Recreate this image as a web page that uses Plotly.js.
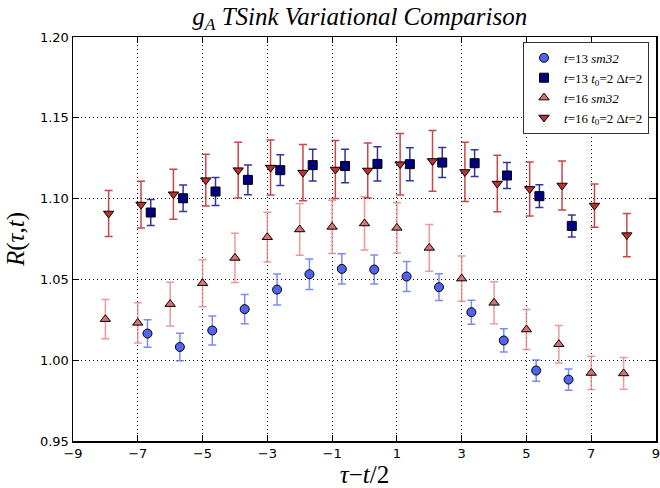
<!DOCTYPE html>
<html>
<head>
<meta charset="utf-8">
<script src="https://cdn.plot.ly/plotly-3.0.1.min.js"></script>
<style>html,body{margin:0;padding:0;background:#fff;}#chart{width:660px;height:488px;}</style>
</head>
<body>
<div id="chart"></div>
<script>
// t=13 sm32 (blue circles)
const x13sm = [-6.7,-5.7,-4.7,-3.7,-2.7,-1.7,-0.7,0.3,1.3,2.3,3.3,4.3,5.3,6.3];
const y13sm = [1.0165,1.0082,1.0184,1.0316,1.0437,1.0532,1.0565,1.0561,1.0518,1.0452,1.0297,1.0122,0.9936,0.9880];
const e13sm = [0.0085,0.0085,0.009,0.009,0.0096,0.0095,0.0093,0.009,0.0093,0.0083,0.0074,0.0072,0.0066,0.0066];
// t=13 t0=2 dt=2 (navy squares)
const x13v = [-6.6,-5.6,-4.6,-3.6,-2.6,-1.6,-0.6,0.4,1.4,2.4,3.4,4.4,5.4,6.4];
const y13v = [1.0914,1.1002,1.1044,1.1116,1.1176,1.1207,1.1202,1.1215,1.1213,1.1223,1.1219,1.1143,1.1015,1.0831];
const e13v = [0.008,0.0082,0.0087,0.0092,0.0095,0.0098,0.0104,0.0106,0.0102,0.0093,0.0083,0.008,0.007,0.0068];
// t=16 sm32 (light red up-triangles)
const x16sm = [-8,-7,-6,-5,-4,-3,-2,-1,0,1,2,3,4,5,6,7,8];
const y16sm = [1.0254,1.0231,1.0347,1.0476,1.0633,1.0761,1.0809,1.0825,1.0846,1.0819,1.0695,1.0505,1.0355,1.0190,1.0099,0.9921,0.9918];
const e16sm = [0.0122,0.0124,0.0135,0.0145,0.0152,0.0154,0.016,0.0165,0.0164,0.0155,0.0145,0.014,0.013,0.0124,0.0116,0.0103,0.0098];
// t=16 t0=2 dt=2 (dark red down-triangles)
const x16v = [-7.9,-6.9,-5.9,-4.9,-3.9,-2.9,-1.9,-0.9,0.1,1.1,2.1,3.1,4.1,5.1,6.1,7.1,8.1];
const y16v = [1.0908,1.0963,1.1027,1.1114,1.1176,1.1192,1.1161,1.1180,1.1174,1.1213,1.1233,1.1165,1.1093,1.1060,1.1081,1.0957,1.0774];
const e16v = [0.0142,0.0145,0.0155,0.016,0.0172,0.017,0.0174,0.018,0.017,0.019,0.0188,0.0183,0.0175,0.0167,0.0152,0.0134,0.0134];

const names = ['<i>t</i>=13 <i>sm32</i>', '<i>t</i>=13 <i>t</i><sub>0</sub>=2 Δ<i>t</i>=2', '<i>t</i>=16 <i>sm32</i>', '<i>t</i>=16 <i>t</i><sub>0</sub>=2 Δ<i>t</i>=2'];
const xTicks = [-9,-7,-5,-3,-1,1,3,5,7,9];
const yTicks = [0.95,1.00,1.05,1.10,1.15,1.20];

function tr(x, y, e, name, sym, fill, ecol, size) {
  return {
    type: 'scatter', mode: 'markers', x: x, y: y, name: name,
    marker: {symbol: sym, size: size, color: fill, line: {color: '#000', width: 1}},
    error_y: {type: 'data', array: e, visible: true, color: ecol, thickness: 1.5, width: 4}
  };
}
const data = [
  tr(x13sm, y13sm, e13sm, names[0], 'circle', '#5064f0', 'rgba(80,100,240,0.75)', 9),
  tr(x13v, y13v, e13v, names[1], 'square', '#000080', 'rgba(0,0,128,0.8)', 9),
  tr(x16sm, y16sm, e16sm, names[2], 'triangle-up', '#e07070', 'rgba(228,120,120,0.75)', 9),
  tr(x16v, y16v, e16v, names[3], 'triangle-down', '#c03030', 'rgba(190,40,40,0.85)', 9)
];
const ax = {
  showline: true, mirror: 'ticks', linecolor: '#000', linewidth: 1.5,
  ticks: 'inside', ticklen: 6, tickcolor: '#000', tickwidth: 1,
  showgrid: true, gridcolor: '#000', griddash: '1px,3px', gridwidth: 1,
  zeroline: false, tickfont: {family: 'DejaVu Sans', size: 13, color: '#000'},
  ticklabeloverflow: 'allow'
};
const layout = {
  width: 660, height: 488,
  margin: {l: 73, r: 4, t: 37, b: 47},
  paper_bgcolor: '#fff', plot_bgcolor: '#fff',
  title: {text: '<i>g<sub>A</sub> TSink Variational Comparison</i>', x: 0.545, xanchor: 'center', y: 0.985, yanchor: 'top',
          font: {family: 'Liberation Serif', size: 25, color: '#000'}},
  xaxis: Object.assign({}, ax, {range: [-9, 9], tickvals: xTicks, ticktext: xTicks.map(v => v < 0 ? '\u2212' + Math.abs(v) : String(v)),
          title: {text: '<i>τ</i>−<i>t</i>/2', font: {family: 'Liberation Serif', size: 25, color: '#000'}, standoff: 6}}),
  yaxis: Object.assign({}, ax, {range: [0.95, 1.20], tickvals: yTicks, ticktext: yTicks.map(v => v.toFixed(2)),
          title: {text: '<i>R</i>(<i>τ</i>,<i>t</i>)', font: {family: 'Liberation Serif', size: 25, color: '#000'}, standoff: 8}}),
  showlegend: true,
  legend: {x: 0.988, y: 0.988, xanchor: 'right', yanchor: 'top', bgcolor: '#fff', bordercolor: '#333', borderwidth: 1,
           font: {family: 'Liberation Serif', size: 13, color: '#000'}, tracegroupgap: 0, itemwidth: 30}
};
Plotly.newPlot('chart', data, layout, {displayModeBar: false, staticPlot: true});
</script>
</body>
</html>
